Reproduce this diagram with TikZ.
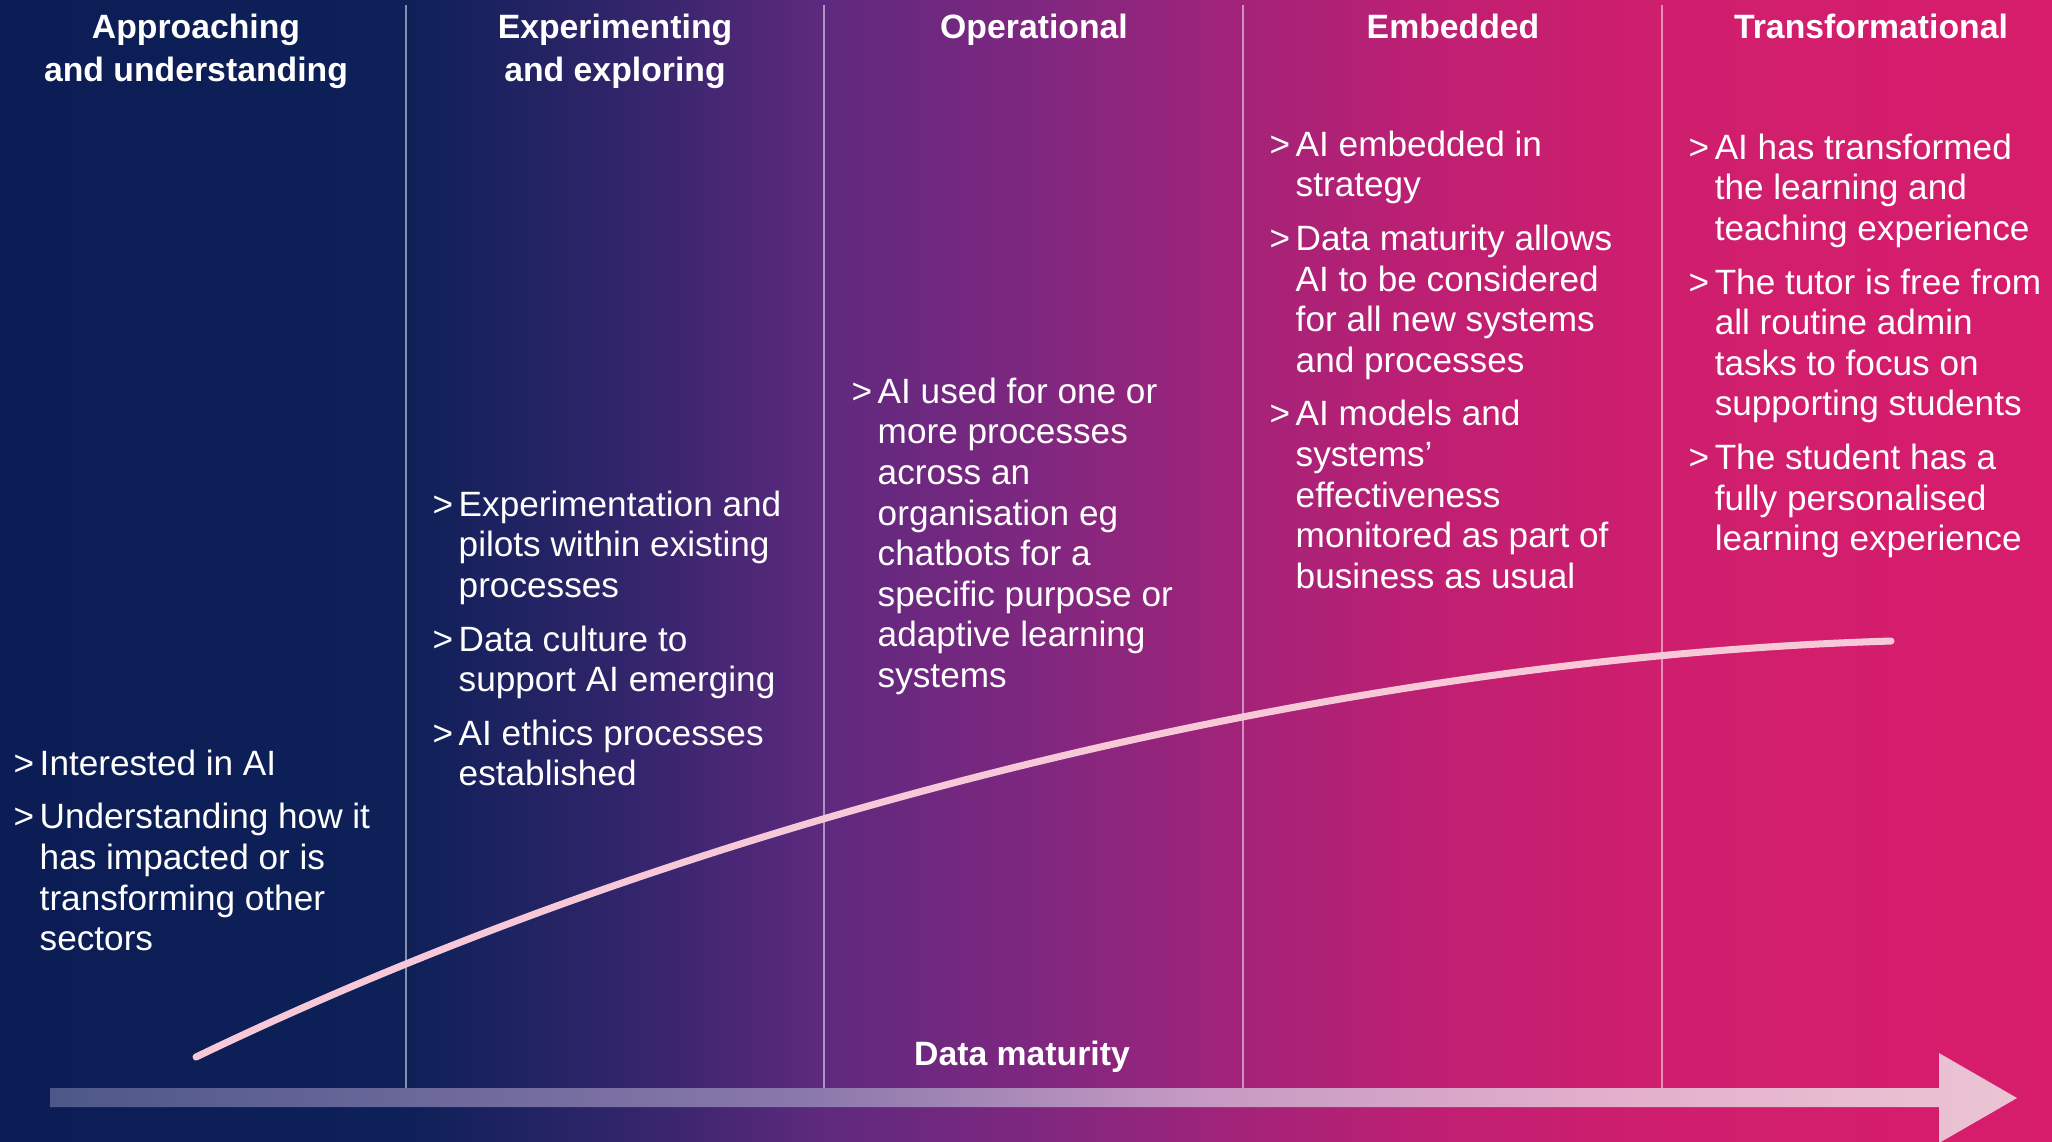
\documentclass[tikz,border=0pt]{standalone}
\usepackage{fontspec}
\setmainfont{Liberation Sans}
\usetikzlibrary{positioning, calc}

\definecolor{bgA}{HTML}{0B1D54}
\definecolor{bgB}{HTML}{0E2058}
\definecolor{bgC}{HTML}{2F256A}
\definecolor{bgD}{HTML}{5E297E}
\definecolor{bgE}{HTML}{7F2780}
\definecolor{bgF}{HTML}{A32379}
\definecolor{bgG}{HTML}{C11F72}
\definecolor{bgH}{HTML}{CF1E6E}
\definecolor{bgI}{HTML}{D71D6B}
\definecolor{arA}{HTML}{4D5889}
\definecolor{arB}{HTML}{8A78AB}
\definecolor{arC}{HTML}{C69AC3}
\definecolor{arD}{HTML}{E3AECB}
\definecolor{arE}{HTML}{EBC5D4}
\definecolor{curvepink}{HTML}{F6C8D8}

\pgfdeclarehorizontalshading{bgshade}{100bp}{color(0bp)=(bgA); color(25bp)=(bgA);
  color(34.9bp)=(bgB); color(40bp)=(bgC); color(45.1bp)=(bgD); color(50.2bp)=(bgE);
  color(55.3bp)=(bgF); color(60.4bp)=(bgG); color(65.5bp)=(bgH); color(75bp)=(bgI);
  color(100bp)=(bgI)}
\pgfdeclarehorizontalshading{arrowshade}{100bp}{color(0bp)=(arA); color(25bp)=(arA);
  color(44.1bp)=(arB); color(54.2bp)=(arC); color(64.4bp)=(arD); color(75bp)=(arE);
  color(100bp)=(arE)}

\newcommand{\ptgap}{3.7pt}

\begin{document}
\begin{tikzpicture}[x=0.01cm, y=-0.01cm,
        head/.style={anchor=north, align=center, inner sep=0pt, text=white,
                font=\bfseries\fontsize{9.6}{12.2}\selectfont},
        item/.style={anchor=north west, inner sep=0pt, text=white,
                font=\fontsize{10}{11.55}\selectfont},
        divider/.style={draw=white, draw opacity=0.5, line width=0.6pt},
        curve/.style={draw=curvepink, line width=2pt, line cap=round}]
                \useasboundingbox (0,0) rectangle (2052,1141);
                \shade[shading=bgshade] (0,0) rectangle (2052,1141);
                \foreach \x [count=\i] in {406,824,1243,1662} {
                        \coordinate (d_\i) at (\x,5);
                        \draw[divider] (d_\i) -- (\x,1089);
                }
                \node[head] (h_1) at (196,13) {Approaching\\and understanding};
                \node[head] (h_2) at (615,13) {Experimenting\\and exploring};
                \node[head] (h_3) at (1034,13) {Operational};
                \node[head] (h_4) at (1453,13) {Embedded};
                \node[head] (h_5) at (1871,13) {Transformational};
                \node[item] (t_1) at (13,746) {\begin{tabular}{@{}p{7.4pt}@{}l@{}}
                        > & Interested in AI\\[\ptgap]
                        > & Understanding how it\\
                          & has impacted or is\\
                          & transforming other\\
                          & sectors
                \end{tabular}};
                \node[item] (t_2) at (432,487) {\begin{tabular}{@{}p{7.4pt}@{}l@{}}
                        > & Experimentation and\\
                          & pilots within existing\\
                          & processes\\[\ptgap]
                        > & Data culture to\\
                          & support AI emerging\\[\ptgap]
                        > & AI ethics processes\\
                          & established
                \end{tabular}};
                \node[item] (t_3) at (851,374) {\begin{tabular}{@{}p{7.4pt}@{}l@{}}
                        > & AI used for one or\\
                          & more processes\\
                          & across an\\
                          & organisation eg\\
                          & chatbots for a\\
                          & specific purpose or\\
                          & adaptive learning\\
                          & systems
                \end{tabular}};
                \node[item] (t_4) at (1269,127) {\begin{tabular}{@{}p{7.4pt}@{}l@{}}
                        > & AI embedded in\\
                          & strategy\\[\ptgap]
                        > & Data maturity allows\\
                          & AI to be considered\\
                          & for all new systems\\
                          & and processes\\[\ptgap]
                        > & AI models and\\
                          & systems’\\
                          & effectiveness\\
                          & monitored as part of\\
                          & business as usual
                \end{tabular}};
                \node[item] (t_5) at (1688,130) {\begin{tabular}{@{}p{7.4pt}@{}l@{}}
                        > & AI has transformed\\
                          & the learning and\\
                          & teaching experience\\[\ptgap]
                        > & The tutor is free from\\
                          & all routine admin\\
                          & tasks to focus on\\
                          & supporting students\\[\ptgap]
                        > & The student has a\\
                          & fully personalised\\
                          & learning experience
                \end{tabular}};
                \coordinate (c_s) at (196,1057);
                \coordinate (c_e) at (1891,641);
                \draw[curve] (c_s) .. controls (740,795) and (1391,656) .. (c_e);
                \shade[shading=arrowshade] (50,1088) -- (1939,1088) -- (1939,1053) -- (2017,1098)
                        -- (1939,1143) -- (1939,1107) -- (50,1107) -- cycle;
                \node[head, anchor=base] (lbl) at (1022,1065) {Data maturity};
        \end{tikzpicture}
\end{document}
